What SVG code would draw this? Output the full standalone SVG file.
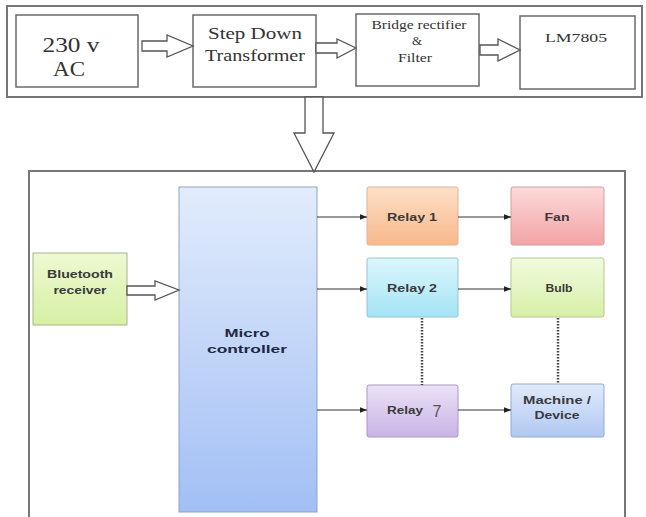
<svg xmlns="http://www.w3.org/2000/svg" width="646" height="517" viewBox="0 0 646 517">
<defs>
<style>
.frame{fill:#fff;stroke:#777;stroke-width:2}
.box{fill:#fff;stroke:#6a6a6a;stroke-width:1.5}
.hollow{fill:#fff;stroke:#555;stroke-width:1.3;stroke-linejoin:miter}
.serif{font-family:"Liberation Serif","Times New Roman",serif;fill:#333;text-anchor:middle}
.sans{font-family:"Liberation Sans",Arial,sans-serif;font-weight:bold;fill:#3a3a3a;text-anchor:middle;font-size:10px}
.conn{stroke:#333;stroke-width:1;fill:none;marker-end:url(#ah)}
.dot{stroke:#444;stroke-width:2.5;stroke-dasharray:1.5 1.5;fill:none}
.node{stroke-width:1}
</style>
<marker id="ah" viewBox="0 0 10 10" refX="10" refY="5" markerWidth="7" markerHeight="7" markerUnits="userSpaceOnUse" orient="auto">
<path d="M0,1 L10,5 L0,9 Z" fill="#222"/>
</marker>
<linearGradient id="gMicro" x1="0" y1="0" x2="0" y2="1"><stop offset="0" stop-color="#e2ecfc"/><stop offset="1" stop-color="#a2bff4"/></linearGradient>
<linearGradient id="gBt" x1="0" y1="0" x2="0" y2="1"><stop offset="0" stop-color="#eef9d2"/><stop offset="1" stop-color="#d6f0a4"/></linearGradient>
<linearGradient id="gR1" x1="0" y1="0" x2="0" y2="1"><stop offset="0" stop-color="#fde0c6"/><stop offset="1" stop-color="#f8b88a"/></linearGradient>
<linearGradient id="gFan" x1="0" y1="0" x2="0" y2="1"><stop offset="0" stop-color="#fcdada"/><stop offset="1" stop-color="#f4a3a5"/></linearGradient>
<linearGradient id="gR2" x1="0" y1="0" x2="0" y2="1"><stop offset="0" stop-color="#dcf6fc"/><stop offset="1" stop-color="#a4e4f6"/></linearGradient>
<linearGradient id="gBulb" x1="0" y1="0" x2="0" y2="1"><stop offset="0" stop-color="#f2fbdf"/><stop offset="1" stop-color="#d6f0a6"/></linearGradient>
<linearGradient id="gR7" x1="0" y1="0" x2="0" y2="1"><stop offset="0" stop-color="#ebe2f6"/><stop offset="1" stop-color="#c8b4e6"/></linearGradient>
<linearGradient id="gDev" x1="0" y1="0" x2="0" y2="1"><stop offset="0" stop-color="#e0eafc"/><stop offset="1" stop-color="#b0c8f2"/></linearGradient>
</defs>
<rect width="646" height="517" fill="#fff"/>

<!-- frames -->
<rect id="power-frame" class="frame" x="7" y="6" width="635" height="91"/>
<path id="system-frame" d="M29,517 L29,171 L625,171 L625,517" fill="none" stroke="#777" stroke-width="2"/>

<g id="n-230v">
<rect class="box" x="16" y="15" width="122" height="72"/>
<text class="serif" x="71" y="52" font-size="21" textLength="57" lengthAdjust="spacingAndGlyphs">230 v</text>
<text class="serif" x="69" y="76" font-size="21" textLength="32" lengthAdjust="spacingAndGlyphs">AC</text>
</g>
<g id="n-stepdown">
<rect class="box" x="193" y="15" width="123" height="72"/>
<text class="serif" x="255" y="39" font-size="17" textLength="94" lengthAdjust="spacingAndGlyphs">Step Down</text>
<text class="serif" x="255" y="61" font-size="17" textLength="100" lengthAdjust="spacingAndGlyphs">Transformer</text>
</g>
<g id="n-bridge">
<rect class="box" x="356" y="14" width="123" height="72"/>
<text class="serif" x="419" y="29" font-size="13" textLength="95" lengthAdjust="spacingAndGlyphs">Bridge rectifier</text>
<text class="serif" x="417" y="45" font-size="13">&amp;</text>
<text class="serif" x="415" y="62" font-size="13" textLength="34" lengthAdjust="spacingAndGlyphs">Filter</text>
</g>
<g id="n-lm7805">
<rect class="box" x="520" y="16" width="115" height="73"/>
<text class="serif" x="576" y="42" font-size="13" textLength="62" lengthAdjust="spacingAndGlyphs">LM7805</text>
</g>

<g id="n-bluetooth">
<rect class="node" x="33" y="253" width="94" height="72" fill="url(#gBt)" stroke="#a8b48a"/>
<text class="sans" x="80" y="278" textLength="66" lengthAdjust="spacingAndGlyphs">Bluetooth</text>
<text class="sans" x="80" y="294" textLength="53" lengthAdjust="spacingAndGlyphs">receiver</text>
</g>
<g id="n-micro">
<rect class="node" x="179" y="187" width="138" height="325" fill="url(#gMicro)" stroke="#8ea3c4"/>
<text class="sans" x="247" y="337" font-size="14" style="fill:#1d2842" textLength="45" lengthAdjust="spacingAndGlyphs">Micro</text>
<text class="sans" x="247" y="353" font-size="14" style="fill:#1d2842" textLength="80" lengthAdjust="spacingAndGlyphs">controller</text>
</g>
<g id="n-relay1">
<rect class="node" x="367" y="187" width="91" height="58" rx="2" fill="url(#gR1)" stroke="#d9b79a"/>
<text class="sans" x="412" y="221" textLength="50" lengthAdjust="spacingAndGlyphs">Relay 1</text>
</g>
<g id="n-fan">
<rect class="node" x="511" y="187" width="93" height="58" rx="2" fill="url(#gFan)" stroke="#d0a0a2"/>
<text class="sans" x="557" y="221" textLength="25" lengthAdjust="spacingAndGlyphs">Fan</text>
</g>
<g id="n-relay2">
<rect class="node" x="367" y="258" width="91" height="59" rx="2" fill="url(#gR2)" stroke="#98c4cf"/>
<text class="sans" x="412" y="292" textLength="50" lengthAdjust="spacingAndGlyphs">Relay 2</text>
</g>
<g id="n-bulb">
<rect class="node" x="511" y="258" width="93" height="59" rx="2" fill="url(#gBulb)" stroke="#b5c98e"/>
<text class="sans" x="559" y="292" textLength="27" lengthAdjust="spacingAndGlyphs">Bulb</text>
</g>
<g id="n-relay7">
<rect class="node" x="367" y="385" width="91" height="52" rx="2" fill="url(#gR7)" stroke="#a898c0"/>
<text class="sans" x="405" y="414" textLength="36" lengthAdjust="spacingAndGlyphs">Relay</text>
<text x="437" y="417" font-family="Liberation Sans, Arial, sans-serif" font-size="16" fill="#555" text-anchor="middle">7</text>
</g>
<g id="n-device">
<rect class="node" x="511" y="384" width="93" height="53" rx="2" fill="url(#gDev)" stroke="#98a9c8"/>
<text class="sans" x="557" y="404" textLength="68" lengthAdjust="spacingAndGlyphs">Machine /</text>
<text class="sans" x="557" y="419" textLength="45" lengthAdjust="spacingAndGlyphs">Device</text>
</g>

<g id="connectors">
<polygon class="hollow" points="142,41 167,41 167,35 193,46 167,57 167,51 142,51"/>
<polygon class="hollow" points="316,43 337,43 337,39 356,48 337,58 337,53 316,53"/>
<polygon class="hollow" points="480,45 498,45 498,39 520,50 498,61 498,55 480,55"/>
<polygon class="hollow" points="305,97 323,97 323,133 334,133 314,172 294,133 305,133"/>
<polygon class="hollow" points="127,286 155,286 155,281 179,290 155,300 155,295 127,295"/>
<line class="conn" x1="317" y1="217" x2="367" y2="217"/>
<line class="conn" x1="317" y1="289" x2="367" y2="289"/>
<line class="conn" x1="317" y1="410" x2="367" y2="410"/>
<line class="conn" x1="458" y1="217" x2="511" y2="217"/>
<line class="conn" x1="458" y1="289" x2="511" y2="289"/>
<line class="conn" x1="458" y1="410" x2="511" y2="410"/>
<line class="dot" x1="422" y1="318" x2="422" y2="385"/>
<line class="dot" x1="558" y1="318" x2="558" y2="384"/>
</g>
</svg>
